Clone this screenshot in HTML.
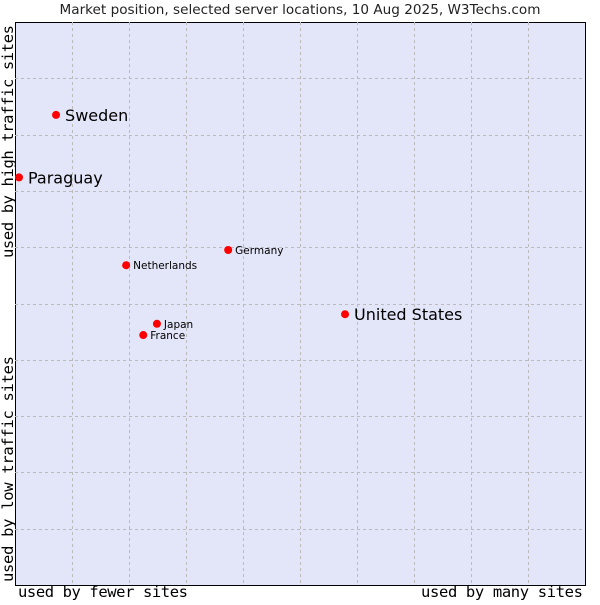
<!DOCTYPE html>
<html><head><meta charset="utf-8"><style>
body{margin:0;background:#fff;width:600px;height:600px;overflow:hidden}
svg text{font-family:"DejaVu Sans","Liberation Sans",sans-serif}
.mono{font-family:"DejaVu Sans Mono","Liberation Mono",monospace !important}
</style></head><body>
<svg id="chart" width="600" height="600">
<text x="300" y="14" text-anchor="middle" font-size="13.6" fill="#222">Market position, selected server locations, 10 Aug 2025, W3Techs.com</text>
<rect x="15.5" y="22.5" width="570" height="563" fill="#e3e5f8" stroke="#000"/>
<g id="grid"></g>
<g id="points"></g>
<text class="mono" x="18" y="597" font-size="15.5" fill="#000" textLength="170">used by fewer sites</text>
<text class="mono" x="583" y="597" text-anchor="end" font-size="15.5" textLength="162">used by many sites</text>
<text class="mono" transform="translate(13,258) rotate(-90)" font-size="15.5" textLength="233">used by high traffic sites</text>
<text class="mono" transform="translate(13,582) rotate(-90)" font-size="15.5" textLength="226">used by low traffic sites</text>
</svg>
<script>
const countries=["Sweden","Paraguay","Germany","Netherlands","United States","Japan","France"];
const xValues=[7.2,0.7,37.4,19.5,57.9,24.9,22.5];
const yValues=[83.5,72.4,59.5,56.8,48.1,46.4,44.4];
const bigLabels=[true,true,false,false,true,false,false];
const NS="http://www.w3.org/2000/svg";
const L=15,R=585,T=22,B=585;
const sx=v=>L+(R-L)*v/100, sy=v=>B-(B-T)*v/100;
const grid=document.getElementById('grid');
for(let i=1;i<10;i++){
  const x=Math.round(sx(i*10))+0.5,y=Math.round(sy(i*10))+0.5;
  const v=document.createElementNS(NS,'line');
  v.setAttribute('x1',x);v.setAttribute('x2',x);v.setAttribute('y1',T);v.setAttribute('y2',B);
  v.setAttribute('stroke','#bbb');v.setAttribute('stroke-dasharray','3,3');
  
  
  grid.appendChild(v);
  const h=document.createElementNS(NS,'line');
  h.setAttribute('x1',L);h.setAttribute('x2',R);h.setAttribute('y1',y);h.setAttribute('y2',y);
  h.setAttribute('stroke','#bbb');h.setAttribute('stroke-dasharray','3,3');
  
  
  grid.appendChild(h);
}
const pts=document.getElementById('points');
countries.forEach((c,i)=>{
  const x=sx(xValues[i]),y=sy(yValues[i]);
  const p=document.createElementNS(NS,'circle');
  p.setAttribute('cx',x);p.setAttribute('cy',y);p.setAttribute('r',4);p.setAttribute('fill','#f00');
  
  
  pts.appendChild(p);
  const t=document.createElementNS(NS,'text');
  t.setAttribute('x',x+(bigLabels[i]?9:7));t.setAttribute('y',y+(bigLabels[i]?6:4));
  t.setAttribute('font-size',bigLabels[i]?16:10.5);t.setAttribute('fill','#000');
  t.textContent=c;
  
  
  pts.appendChild(t);
});
</script>
</body></html>
